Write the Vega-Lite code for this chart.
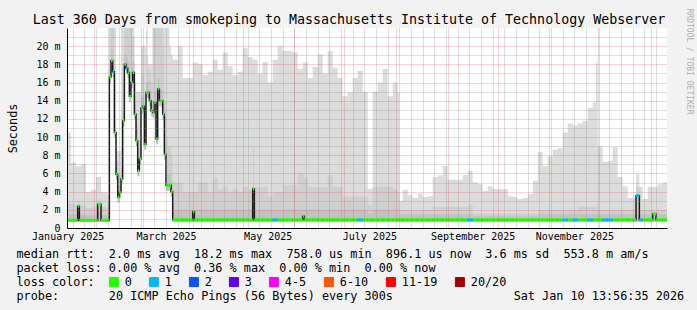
{
"$schema": "https://vega.github.io/schema/vega-lite/v6.json",
"width": 600, "height": 200,
"autosize": {"type": "none"},
"padding": {"left": 67, "top": 28, "right": 30, "bottom": 82},
"background": "#f2f2f2",
"config": {
  "view": {"fill": "#ffffff", "stroke": null},
  "font": "DejaVu Sans Mono",
  "axis": {"labelFont": "DejaVu Sans Mono", "titleFont": "DejaVu Sans Mono", "labelColor": "#000000", "titleColor": "#000000", "titleFontWeight": "normal"}
},
"data": {"format": {"parse": {"date": "date"}}, "values": [
{"date":"2025-01-15","lo":0.7,"dark":1.5,"mid":2.8,"hi":10.5,"median":0.85,"loss":"0"},
{"date":"2025-01-18","lo":0.7,"dark":1.5,"mid":2.6,"hi":7.2,"median":0.85,"loss":"0"},
{"date":"2025-01-21","lo":0.7,"dark":1.5,"mid":2.5,"hi":6.8,"median":0.85,"loss":"0"},
{"date":"2025-01-22","lo":0.7,"dark":1.8,"mid":3.0,"hi":6.8,"median":2.4,"loss":"0"},
{"date":"2025-01-23","lo":0.7,"dark":1.5,"mid":2.5,"hi":6.8,"median":0.85,"loss":"0"},
{"date":"2025-01-24","lo":0.7,"dark":1.5,"mid":2.5,"hi":7.0,"median":0.85,"loss":"0"},
{"date":"2025-01-27","lo":0.7,"dark":1.4,"mid":2.2,"hi":4.0,"median":0.85,"loss":"0"},
{"date":"2025-01-30","lo":0.7,"dark":1.4,"mid":2.3,"hi":4.2,"median":0.85,"loss":"0"},
{"date":"2025-02-02","lo":0.7,"dark":1.5,"mid":2.5,"hi":5.6,"median":0.85,"loss":"0"},
{"date":"2025-02-03","lo":0.7,"dark":1.8,"mid":3.2,"hi":5.6,"median":2.6,"loss":"0"},
{"date":"2025-02-05","lo":0.7,"dark":1.4,"mid":2.3,"hi":4.0,"median":0.85,"loss":"0"},
{"date":"2025-02-08","lo":0.7,"dark":1.4,"mid":2.2,"hi":3.9,"median":0.85,"loss":"0"},
{"date":"2025-02-09","lo":0.7,"dark":1.4,"mid":2.2,"hi":3.5,"median":0.85,"loss":"0"},
{"date":"2025-02-10","lo":16.0,"dark":17.8,"mid":22,"hi":22,"median":16.6,"loss":"0"},
{"date":"2025-02-11","lo":17.8,"dark":19.6,"mid":22,"hi":22,"median":18.4,"loss":"0"},
{"date":"2025-02-12","lo":16.6,"dark":18.4,"mid":22,"hi":22,"median":17.2,"loss":"1"},
{"date":"2025-02-13","lo":9.9,"dark":11.7,"mid":16,"hi":22,"median":10.5,"loss":"0"},
{"date":"2025-02-14","lo":5.3,"dark":7.1,"mid":7.5,"hi":8.5,"median":5.9,"loss":"0"},
{"date":"2025-02-15","lo":2.8,"dark":4.6,"mid":5.5,"hi":8.5,"median":3.4,"loss":"0"},
{"date":"2025-02-16","lo":3.3,"dark":5.1,"mid":6.0,"hi":8.5,"median":3.9,"loss":"0"},
{"date":"2025-02-17","lo":4.8,"dark":6.6,"mid":9.0,"hi":22,"median":5.4,"loss":"0"},
{"date":"2025-02-18","lo":11.2,"dark":13.0,"mid":16,"hi":22,"median":11.8,"loss":"0"},
{"date":"2025-02-19","lo":17.4,"dark":19.2,"mid":22,"hi":22,"median":18.0,"loss":"0"},
{"date":"2025-02-20","lo":17.0,"dark":18.8,"mid":22,"hi":22,"median":17.6,"loss":"1"},
{"date":"2025-02-21","lo":16.5,"dark":18.3,"mid":22,"hi":22,"median":17.1,"loss":"0"},
{"date":"2025-02-22","lo":13.9,"dark":15.7,"mid":22,"hi":22,"median":14.5,"loss":"0"},
{"date":"2025-02-23","lo":15.4,"dark":17.2,"mid":22,"hi":22,"median":16.0,"loss":"0"},
{"date":"2025-02-24","lo":16.5,"dark":18.3,"mid":21,"hi":22,"median":17.1,"loss":"0"},
{"date":"2025-02-25","lo":11.9,"dark":13.7,"mid":14.5,"hi":16,"median":12.5,"loss":"0"},
{"date":"2025-02-26","lo":9.0,"dark":10.8,"mid":11.6,"hi":15,"median":9.6,"loss":"0"},
{"date":"2025-02-27","lo":5.7,"dark":7.5,"mid":8.3,"hi":15,"median":6.3,"loss":"0"},
{"date":"2025-02-28","lo":7.0,"dark":8.8,"mid":9.6,"hi":15,"median":7.6,"loss":"0"},
{"date":"2025-03-01","lo":12.6,"dark":14.4,"mid":17,"hi":20,"median":13.2,"loss":"0"},
{"date":"2025-03-02","lo":12.8,"dark":14.6,"mid":17,"hi":20,"median":13.4,"loss":"0"},
{"date":"2025-03-03","lo":8.6,"dark":10.4,"mid":13,"hi":20,"median":9.2,"loss":"0"},
{"date":"2025-03-04","lo":14.3,"dark":16.1,"mid":19,"hi":22,"median":14.9,"loss":"0"},
{"date":"2025-03-05","lo":14.3,"dark":16.1,"mid":17.5,"hi":18,"median":14.9,"loss":"0"},
{"date":"2025-03-06","lo":13.4,"dark":15.2,"mid":17,"hi":18,"median":14.0,"loss":"0"},
{"date":"2025-03-07","lo":12.3,"dark":14.1,"mid":16,"hi":18,"median":12.9,"loss":"0"},
{"date":"2025-03-08","lo":12.1,"dark":13.9,"mid":22,"hi":22,"median":12.7,"loss":"0"},
{"date":"2025-03-09","lo":13.2,"dark":15.0,"mid":22,"hi":22,"median":13.8,"loss":"0"},
{"date":"2025-03-10","lo":9.2,"dark":11.0,"mid":22,"hi":22,"median":9.8,"loss":"0"},
{"date":"2025-03-11","lo":14.7,"dark":16.5,"mid":22,"hi":22,"median":15.3,"loss":"0"},
{"date":"2025-03-12","lo":13.4,"dark":15.2,"mid":22,"hi":22,"median":14.0,"loss":"0"},
{"date":"2025-03-13","lo":13.4,"dark":15.2,"mid":22,"hi":22,"median":14.0,"loss":"0"},
{"date":"2025-03-14","lo":11.9,"dark":13.7,"mid":20,"hi":22,"median":12.5,"loss":"0"},
{"date":"2025-03-15","lo":7.5,"dark":9.3,"mid":14,"hi":22,"median":8.1,"loss":"0"},
{"date":"2025-03-16","lo":4.1,"dark":5.9,"mid":10,"hi":22,"median":4.7,"loss":"0"},
{"date":"2025-03-17","lo":4.1,"dark":5.9,"mid":9,"hi":22,"median":4.7,"loss":"0"},
{"date":"2025-03-18","lo":4.1,"dark":5.9,"mid":9,"hi":20,"median":4.7,"loss":"0"},
{"date":"2025-03-19","lo":3.4,"dark":5.2,"mid":8,"hi":19,"median":4.0,"loss":"0"},
{"date":"2025-03-20","lo":0.7,"dark":2.0,"mid":5.0,"hi":18.5,"median":0.9,"loss":"0"},
{"date":"2025-03-23","lo":0.7,"dark":2.0,"mid":5.0,"hi":20.0,"median":0.9,"loss":"0"},
{"date":"2025-03-26","lo":0.7,"dark":2.0,"mid":4.0,"hi":16.5,"median":0.9,"loss":"0"},
{"date":"2025-03-29","lo":0.7,"dark":2.0,"mid":4.0,"hi":16.5,"median":0.9,"loss":"0"},
{"date":"2025-04-01","lo":0.7,"dark":2.0,"mid":4.0,"hi":18.2,"median":1.8,"loss":"0"},
{"date":"2025-04-02","lo":0.7,"dark":2.0,"mid":4.0,"hi":18.2,"median":0.9,"loss":"0"},
{"date":"2025-04-04","lo":0.7,"dark":2.0,"mid":5.0,"hi":18.0,"median":0.9,"loss":"0"},
{"date":"2025-04-07","lo":0.7,"dark":2.0,"mid":5.0,"hi":16.8,"median":0.9,"loss":"0"},
{"date":"2025-04-10","lo":0.7,"dark":2.0,"mid":4.0,"hi":17.2,"median":0.9,"loss":"0"},
{"date":"2025-04-13","lo":0.7,"dark":2.0,"mid":5.5,"hi":18.5,"median":0.9,"loss":"0"},
{"date":"2025-04-16","lo":0.7,"dark":2.0,"mid":4.2,"hi":17.4,"median":0.9,"loss":"0"},
{"date":"2025-04-19","lo":0.7,"dark":2.0,"mid":4.5,"hi":19.3,"median":0.9,"loss":"0"},
{"date":"2025-04-22","lo":0.7,"dark":2.0,"mid":4.0,"hi":17.8,"median":0.9,"loss":"0"},
{"date":"2025-04-25","lo":0.7,"dark":2.0,"mid":4.3,"hi":16.8,"median":0.9,"loss":"0"},
{"date":"2025-04-28","lo":0.7,"dark":2.0,"mid":4.0,"hi":17.2,"median":0.9,"loss":"0"},
{"date":"2025-05-01","lo":0.7,"dark":2.0,"mid":4.5,"hi":19.8,"median":0.9,"loss":"0"},
{"date":"2025-05-04","lo":0.7,"dark":2.0,"mid":4.2,"hi":18.8,"median":0.9,"loss":"0"},
{"date":"2025-05-07","lo":0.7,"dark":2.0,"mid":9.0,"hi":18.5,"median":4.3,"loss":"0"},
{"date":"2025-05-08","lo":0.7,"dark":2.0,"mid":4.5,"hi":18.5,"median":0.9,"loss":"0"},
{"date":"2025-05-10","lo":0.7,"dark":2.0,"mid":4.5,"hi":17.0,"median":0.9,"loss":"0"},
{"date":"2025-05-13","lo":0.7,"dark":2.0,"mid":4.5,"hi":18.3,"median":0.9,"loss":"0"},
{"date":"2025-05-16","lo":0.7,"dark":2.0,"mid":3.5,"hi":16.0,"median":0.9,"loss":"0"},
{"date":"2025-05-19","lo":0.7,"dark":2.0,"mid":4.0,"hi":18.5,"median":0.9,"loss":"1"},
{"date":"2025-05-22","lo":0.7,"dark":2.0,"mid":4.0,"hi":20.0,"median":0.9,"loss":"0"},
{"date":"2025-05-25","lo":0.7,"dark":2.0,"mid":4.7,"hi":19.5,"median":0.9,"loss":"0"},
{"date":"2025-05-28","lo":0.7,"dark":2.0,"mid":4.7,"hi":19.5,"median":0.9,"loss":"0"},
{"date":"2025-05-31","lo":0.7,"dark":2.0,"mid":4.7,"hi":19.3,"median":0.9,"loss":"0"},
{"date":"2025-06-03","lo":0.7,"dark":2.0,"mid":6.0,"hi":17.5,"median":0.9,"loss":"0"},
{"date":"2025-06-06","lo":0.7,"dark":2.0,"mid":6.0,"hi":18.2,"median":1.3,"loss":"0"},
{"date":"2025-06-07","lo":0.7,"dark":2.0,"mid":5.5,"hi":18.2,"median":0.9,"loss":"0"},
{"date":"2025-06-09","lo":0.7,"dark":2.0,"mid":4.5,"hi":16.5,"median":0.9,"loss":"0"},
{"date":"2025-06-12","lo":0.7,"dark":2.0,"mid":4.5,"hi":17.7,"median":0.9,"loss":"0"},
{"date":"2025-06-15","lo":0.7,"dark":2.0,"mid":4.5,"hi":19.1,"median":0.9,"loss":"0"},
{"date":"2025-06-18","lo":0.7,"dark":2.0,"mid":4.5,"hi":17.0,"median":0.9,"loss":"0"},
{"date":"2025-06-21","lo":0.7,"dark":2.0,"mid":5.8,"hi":19.5,"median":0.9,"loss":"0"},
{"date":"2025-06-24","lo":0.7,"dark":2.0,"mid":4.5,"hi":17.6,"median":0.9,"loss":"0"},
{"date":"2025-06-27","lo":0.7,"dark":2.0,"mid":4.5,"hi":16.5,"median":0.9,"loss":"0"},
{"date":"2025-06-30","lo":0.7,"dark":2.0,"mid":3.5,"hi":14.5,"median":0.9,"loss":"0"},
{"date":"2025-07-03","lo":0.7,"dark":2.0,"mid":3.5,"hi":14.9,"median":0.9,"loss":"0"},
{"date":"2025-07-06","lo":0.7,"dark":2.0,"mid":3.5,"hi":16.5,"median":0.9,"loss":"0"},
{"date":"2025-07-09","lo":0.7,"dark":2.0,"mid":3.5,"hi":17.3,"median":0.9,"loss":"1"},
{"date":"2025-07-12","lo":0.7,"dark":2.0,"mid":3.5,"hi":15.0,"median":0.9,"loss":"0"},
{"date":"2025-07-15","lo":0.7,"dark":1.6,"mid":2.5,"hi":4.3,"median":0.9,"loss":"0"},
{"date":"2025-07-18","lo":0.7,"dark":2.0,"mid":4.5,"hi":15.0,"median":0.9,"loss":"0"},
{"date":"2025-07-21","lo":0.7,"dark":2.0,"mid":4.5,"hi":16.0,"median":0.9,"loss":"0"},
{"date":"2025-07-24","lo":0.7,"dark":2.0,"mid":4.6,"hi":17.5,"median":0.9,"loss":"0"},
{"date":"2025-07-27","lo":0.7,"dark":2.0,"mid":4.5,"hi":14.5,"median":0.9,"loss":"0"},
{"date":"2025-07-30","lo":0.7,"dark":2.0,"mid":4.3,"hi":16.0,"median":0.9,"loss":"0"},
{"date":"2025-08-02","lo":0.7,"dark":2.0,"mid":4.0,"hi":14.9,"median":0.9,"loss":"0"},
{"date":"2025-08-03","lo":0.7,"dark":1.5,"mid":2.0,"hi":3.0,"median":0.9,"loss":"0"},
{"date":"2025-08-05","lo":0.7,"dark":1.5,"mid":2.0,"hi":4.2,"median":0.9,"loss":"0"},
{"date":"2025-08-08","lo":0.7,"dark":1.5,"mid":2.0,"hi":3.6,"median":0.9,"loss":"0"},
{"date":"2025-08-11","lo":0.7,"dark":1.5,"mid":2.0,"hi":3.3,"median":0.9,"loss":"0"},
{"date":"2025-08-14","lo":0.7,"dark":1.5,"mid":2.0,"hi":3.8,"median":0.9,"loss":"0"},
{"date":"2025-08-17","lo":0.7,"dark":1.5,"mid":2.0,"hi":3.4,"median":0.9,"loss":"0"},
{"date":"2025-08-20","lo":0.7,"dark":1.5,"mid":2.0,"hi":3.5,"median":0.9,"loss":"0"},
{"date":"2025-08-23","lo":0.7,"dark":1.5,"mid":2.3,"hi":5.6,"median":0.9,"loss":"0"},
{"date":"2025-08-26","lo":0.7,"dark":1.5,"mid":2.3,"hi":5.8,"median":0.9,"loss":"0"},
{"date":"2025-08-29","lo":0.7,"dark":1.5,"mid":2.3,"hi":6.8,"median":0.9,"loss":"0"},
{"date":"2025-09-01","lo":0.7,"dark":1.5,"mid":2.3,"hi":5.3,"median":0.9,"loss":"0"},
{"date":"2025-09-04","lo":0.7,"dark":1.5,"mid":2.3,"hi":5.3,"median":0.9,"loss":"0"},
{"date":"2025-09-07","lo":0.7,"dark":1.5,"mid":2.3,"hi":5.3,"median":0.9,"loss":"0"},
{"date":"2025-09-10","lo":0.7,"dark":1.5,"mid":2.3,"hi":5.8,"median":0.9,"loss":"0"},
{"date":"2025-09-13","lo":0.7,"dark":1.5,"mid":2.5,"hi":6.3,"median":0.9,"loss":"1"},
{"date":"2025-09-16","lo":0.7,"dark":1.3,"mid":1.6,"hi":5.0,"median":0.9,"loss":"0"},
{"date":"2025-09-19","lo":0.7,"dark":1.3,"mid":1.6,"hi":4.8,"median":0.9,"loss":"0"},
{"date":"2025-09-22","lo":0.7,"dark":1.3,"mid":1.6,"hi":4.1,"median":0.9,"loss":"0"},
{"date":"2025-09-25","lo":0.7,"dark":1.3,"mid":1.6,"hi":4.6,"median":0.9,"loss":"0"},
{"date":"2025-09-28","lo":0.7,"dark":1.3,"mid":1.6,"hi":4.3,"median":0.9,"loss":"0"},
{"date":"2025-10-01","lo":0.7,"dark":1.3,"mid":1.6,"hi":4.3,"median":0.9,"loss":"0"},
{"date":"2025-10-04","lo":0.7,"dark":1.3,"mid":1.6,"hi":4.3,"median":0.9,"loss":"0"},
{"date":"2025-10-07","lo":0.7,"dark":1.3,"mid":1.6,"hi":3.5,"median":0.9,"loss":"0"},
{"date":"2025-10-10","lo":0.7,"dark":1.3,"mid":1.6,"hi":3.4,"median":0.9,"loss":"0"},
{"date":"2025-10-13","lo":0.7,"dark":1.3,"mid":1.6,"hi":3.2,"median":0.9,"loss":"0"},
{"date":"2025-10-16","lo":0.7,"dark":1.3,"mid":1.6,"hi":3.3,"median":0.9,"loss":"0"},
{"date":"2025-10-19","lo":0.7,"dark":1.3,"mid":1.6,"hi":3.7,"median":0.9,"loss":"0"},
{"date":"2025-10-22","lo":0.7,"dark":1.3,"mid":1.6,"hi":5.2,"median":0.9,"loss":"0"},
{"date":"2025-10-25","lo":0.7,"dark":1.5,"mid":2.0,"hi":8.4,"median":0.9,"loss":"0"},
{"date":"2025-10-28","lo":0.7,"dark":1.5,"mid":2.0,"hi":6.8,"median":0.9,"loss":"0"},
{"date":"2025-10-31","lo":0.7,"dark":1.5,"mid":2.0,"hi":7.9,"median":0.9,"loss":"0"},
{"date":"2025-11-03","lo":0.7,"dark":1.5,"mid":2.0,"hi":8.6,"median":0.9,"loss":"0"},
{"date":"2025-11-06","lo":0.7,"dark":1.5,"mid":2.0,"hi":8.8,"median":0.9,"loss":"0"},
{"date":"2025-11-09","lo":0.7,"dark":1.5,"mid":2.0,"hi":10.5,"median":0.9,"loss":"1"},
{"date":"2025-11-12","lo":0.7,"dark":1.5,"mid":2.0,"hi":11.5,"median":0.9,"loss":"0"},
{"date":"2025-11-15","lo":0.7,"dark":1.5,"mid":2.0,"hi":11.3,"median":0.9,"loss":"1"},
{"date":"2025-11-18","lo":0.7,"dark":1.5,"mid":2.3,"hi":11.5,"median":0.9,"loss":"0"},
{"date":"2025-11-21","lo":0.7,"dark":1.5,"mid":2.3,"hi":11.8,"median":0.9,"loss":"0"},
{"date":"2025-11-24","lo":0.7,"dark":1.5,"mid":2.3,"hi":13.2,"median":0.9,"loss":"1"},
{"date":"2025-11-27","lo":0.7,"dark":1.5,"mid":2.3,"hi":13.8,"median":0.9,"loss":"0"},
{"date":"2025-11-29","lo":0.7,"dark":1.5,"mid":2.3,"hi":18.2,"median":0.9,"loss":"0"},
{"date":"2025-11-30","lo":0.7,"dark":1.5,"mid":2.0,"hi":9.0,"median":0.9,"loss":"0"},
{"date":"2025-12-03","lo":0.7,"dark":1.5,"mid":2.0,"hi":7.3,"median":0.9,"loss":"1"},
{"date":"2025-12-06","lo":0.7,"dark":1.5,"mid":2.0,"hi":7.4,"median":0.9,"loss":"1"},
{"date":"2025-12-09","lo":0.7,"dark":1.5,"mid":2.0,"hi":8.9,"median":0.9,"loss":"0"},
{"date":"2025-12-12","lo":0.7,"dark":1.5,"mid":2.0,"hi":5.6,"median":0.9,"loss":"0"},
{"date":"2025-12-15","lo":0.7,"dark":1.5,"mid":2.0,"hi":4.6,"median":0.9,"loss":"0"},
{"date":"2025-12-18","lo":0.7,"dark":1.5,"mid":2.0,"hi":3.3,"median":0.9,"loss":"0"},
{"date":"2025-12-21","lo":0.7,"dark":1.5,"mid":2.0,"hi":3.3,"median":0.9,"loss":"0"},
{"date":"2025-12-23","lo":0.7,"dark":1.5,"mid":4.5,"hi":5.9,"median":3.55,"loss":"1"},
{"date":"2025-12-25","lo":0.7,"dark":1.5,"mid":2.0,"hi":4.5,"median":0.9,"loss":"1"},
{"date":"2025-12-27","lo":0.7,"dark":1.5,"mid":2.0,"hi":3.2,"median":0.9,"loss":"0"},
{"date":"2025-12-30","lo":0.7,"dark":1.5,"mid":2.0,"hi":4.5,"median":0.9,"loss":"0"},
{"date":"2026-01-02","lo":0.7,"dark":1.5,"mid":2.0,"hi":4.5,"median":1.55,"loss":"0"},
{"date":"2026-01-04","lo":0.7,"dark":1.5,"mid":2.0,"hi":4.5,"median":0.9,"loss":"0"},
{"date":"2026-01-05","lo":0.7,"dark":1.5,"mid":2.0,"hi":4.8,"median":0.9,"loss":"0"},
{"date":"2026-01-08","lo":0.7,"dark":1.5,"mid":2.0,"hi":5.0,"median":0.9,"loss":"0"},
{"date":"2026-01-11","lo":0.7,"dark":1.5,"mid":2.0,"hi":5.0,"median":0.9,"loss":"0"}
]},
"layer": [
  {
    "mark": {"type": "area", "interpolate": "step-after", "color": "#dcdcdc", "clip": true},
    "encoding": {
      "x": {"field": "date", "type": "temporal",
        "scale": {"type": "utc", "nice": false, "domain": [{"year": 2025, "month": 1, "date": 15, "hours": 14, "utc": true}, {"year": 2026, "month": 1, "date": 10, "hours": 14, "utc": true}]},
        "axis": {"orient": "bottom", "tickCount": {"interval": "week", "step": 1}, "grid": true, "gridColor": "#8f8f8f", "gridOpacity": 0.6, "gridDash": [1, 1], "labels": false, "ticks": false, "domain": false, "title": null, "zindex": 1}},
      "y": {"field": "lo", "type": "quantitative", "scale": {"domain": [0, 22], "nice": false, "zero": true},
        "axis": {"orient": "left", "values": [1, 3, 5, 7, 9, 11, 13, 15, 17, 19, 21], "grid": true, "gridColor": "#8f8f8f", "gridOpacity": 0.6, "gridDash": [1, 1], "labels": false, "ticks": false, "domain": false, "title": null, "zindex": 1}},
      "y2": {"field": "hi"}
    }
  },
  {
    "mark": {"type": "area", "interpolate": "step-after", "color": "#cfcfcf", "clip": true},
    "encoding": {
      "x": {"field": "date", "type": "temporal",
        "axis": {"orient": "bottom", "tickCount": {"interval": "month", "step": 1}, "grid": true, "gridColor": "#de4f4f", "gridOpacity": 0.5, "gridDash": [1, 1], "labels": false, "ticks": false, "domain": false, "title": null, "zindex": 1}},
      "y": {"field": "lo", "type": "quantitative",
        "axis": {"orient": "left", "values": [0, 2, 4, 6, 8, 10, 12, 14, 16, 18, 20], "labelExpr": "datum.value == 0 ? '0' : datum.value + ' m'", "labelFontSize": 10, "labelPadding": 7, "ticks": false, "tickSize": 0, "grid": true, "gridColor": "#de4f4f", "gridOpacity": 0.5, "gridDash": [1, 1], "domain": true, "domainColor": "#000000", "domainWidth": 1, "zindex": 1,
          "title": "Seconds", "titleFontSize": 11.8, "titleAngle": -90, "titleAlign": "center", "titleBaseline": "middle", "titleX": -55, "titleY": 100}},
      "y2": {"field": "mid"}
    }
  },
  {
    "mark": {"type": "area", "interpolate": "step-after", "color": "#c2c2c2", "clip": true},
    "encoding": {
      "x": {"field": "date", "type": "temporal",
        "axis": {"orient": "bottom", "values": [{"year": 2025, "month": 1, "date": 16, "utc": true}, {"year": 2025, "month": 3, "date": 16, "utc": true}, {"year": 2025, "month": 5, "date": 16, "utc": true}, {"year": 2025, "month": 7, "date": 16, "utc": true}, {"year": 2025, "month": 9, "date": 16, "utc": true}, {"year": 2025, "month": 11, "date": 16, "utc": true}],
          "labelExpr": "utcFormat(datum.value, '%B %Y')", "labelFontSize": 10, "labelPadding": 3, "labelFlush": false, "labelOverlap": false, "labelBound": false, "ticks": false, "tickSize": 0, "grid": false, "domain": true, "domainColor": "#000000", "domainWidth": 1, "zindex": 2,
          "title": ["median\u00a0rtt:\u00a0\u00a02.0\u00a0ms\u00a0avg\u00a0\u00a018.2\u00a0ms\u00a0max\u00a0\u00a0758.0\u00a0us\u00a0min\u00a0\u00a0896.1\u00a0us\u00a0now\u00a0\u00a03.6\u00a0ms\u00a0sd\u00a0\u00a0553.8\u00a0m\u00a0am/s", "packet\u00a0loss:\u00a00.00\u00a0%\u00a0avg\u00a0\u00a00.36\u00a0%\u00a0max\u00a0\u00a00.00\u00a0%\u00a0min\u00a0\u00a00.00\u00a0%\u00a0now", "loss\u00a0color:", "probe:\u00a0\u00a0\u00a0\u00a0\u00a0\u00a0\u00a020\u00a0ICMP\u00a0Echo\u00a0Pings\u00a0(56\u00a0Bytes)\u00a0every\u00a0300s\u00a0\u00a0\u00a0\u00a0\u00a0\u00a0\u00a0\u00a0\u00a0\u00a0\u00a0\u00a0\u00a0\u00a0\u00a0\u00a0\u00a0Sat\u00a0Jan\u00a010\u00a013:56:35\u00a02026"],
          "titleFontSize": 11.8, "titleLineHeight": 14, "titleAlign": "left", "titleAnchor": "start", "titleBaseline": "top", "titleX": -51, "titleY": 20}},
      "y": {"field": "lo", "type": "quantitative",
        "axis": {"orient": "right", "labels": false, "ticks": false, "domain": false, "grid": false,
          "title": "RRDTOOL / TOBI OETIKER", "titleFontSize": 8, "titleColor": "#b0b0b0", "titleAngle": 90, "titleAlign": "left", "titleBaseline": "middle", "titleX": 21, "titleY": -20}},
      "y2": {"field": "dark"}
    }
  },
  {
    "mark": {"type": "line", "interpolate": "step-after", "color": "#1a1a1a", "strokeWidth": 1.5, "clip": true},
    "encoding": {
      "x": {"field": "date", "type": "temporal",
        "axis": {"orient": "top", "labels": false, "ticks": false, "domain": false, "grid": false,
          "title": "Last 360 Days from smokeping to Massachusetts Institute of Technology Webserver", "titleFontSize": 13.3, "titleAlign": "center", "titleBaseline": "middle", "titleX": 281.5, "titleY": -9}},
      "y": {"field": "median", "type": "quantitative", "axis": null}
    }
  },
  {
    "transform": [
      {"window": [{"op": "lead", "field": "date", "as": "end"}], "sort": [{"field": "date"}]},
      {"filter": "datum.end != null"}
    ],
    "mark": {"type": "rule", "strokeWidth": 3, "strokeCap": "butt", "clip": true},
    "encoding": {
      "x": {"field": "date", "type": "temporal", "axis": null},
      "x2": {"field": "end"},
      "y": {"field": "median", "type": "quantitative", "axis": null},
      "color": {"field": "loss", "type": "nominal",
        "scale": {"domain": ["0", "1", "2", "3", "4-5", "6-10", "11-19", "20/20"], "range": ["#26ff00", "#00b8ff", "#0059ff", "#5e00ff", "#ff00ff", "#ff5500", "#ff0000", "#a00000"]},
        "legend": {"orient": "none", "legendX": 41, "legendY": 248, "direction": "horizontal", "title": null, "symbolType": "square", "symbolSize": 81, "labelFont": "DejaVu Sans Mono", "labelFontSize": 11.8, "labelColor": "#000000", "labelOffset": 5, "columnPadding": 15, "padding": 0,
          "encode": {"symbols": {"update": {"fill": {"scale": "color", "field": "value"}, "stroke": {"value": "#000000"}, "strokeWidth": {"value": 1}, "opacity": {"value": 1}}}}}}
    }
  }
],
"resolve": {"axis": {"x": "independent", "y": "independent"}}
}
